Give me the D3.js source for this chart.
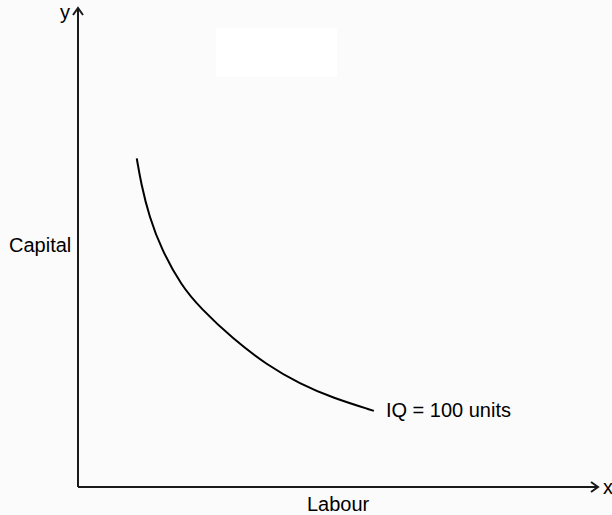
<html>
<script src="https://d3js.org/d3.v7.min.js"></script>
<style>
    body { margin: 0; background: #fbfbfb; }
    text { font-family: Arial, "Liberation Sans", sans-serif; fill: #000; }
</style>
<body>
<svg id="chart"></svg>
<script>
    // isoquant points (labour, capital) in axis units 0..100
    var labour = [11.3, 12.1, 13.7, 16.1, 19.9, 23.5, 29.8, 36.3, 42.7, 49.0, 56.9];
    var capital = [68.6, 63.5, 56.4, 49.5, 42.0, 37.4, 30.9, 25.5, 21.5, 18.6, 15.9];
    var curveLabel = "IQ = 100 units";
    var xTitle = "Labour", yTitle = "Capital";

    var width = 612, height = 515;
    var svg = d3.select("#chart").attr("width", width).attr("height", height);

    svg.append("rect").attr("width", width).attr("height", height).attr("fill", "#fbfbfb");
    // blank white box near top
    svg.append("rect").attr("x", 216).attr("y", 28).attr("width", 121).attr("height", 49).attr("fill", "#fff");

    var x = d3.scaleLinear().domain([0, 100]).range([78, 598]);
    var y = d3.scaleLinear().domain([0, 100]).range([487, 8]);

    var axisColor = "#1a1a1a";
    // axes
    svg.append("line")
        .attr("x1", x(0)).attr("y1", y(0)).attr("x2", x(0)).attr("y2", y(100))
        .attr("stroke", axisColor).attr("stroke-width", 2);
    svg.append("line")
        .attr("x1", x(0)).attr("y1", y(0)).attr("x2", x(100)).attr("y2", y(0))
        .attr("stroke", axisColor).attr("stroke-width", 2);

    // arrow heads
    svg.append("path")
        .attr("d", "M" + (x(0) - 5) + "," + (y(100) + 7) + "L" + x(0) + "," + y(100) + "L" + (x(0) + 5) + "," + (y(100) + 7))
        .attr("fill", "none").attr("stroke", axisColor).attr("stroke-width", 2);
    svg.append("path")
        .attr("d", "M" + (x(100) - 7) + "," + (y(0) - 5) + "L" + x(100) + "," + y(0) + "L" + (x(100) - 7) + "," + (y(0) + 5))
        .attr("fill", "none").attr("stroke", axisColor).attr("stroke-width", 2);

    svg.append("text").attr("x", 60).attr("y", 19).style("font-size", "20px").text("y");
    svg.append("text").attr("x", 603).attr("y", 494).style("font-size", "20px").text("x");

    svg.append("text").attr("x", 9).attr("y", 252).style("font-size", "20px").text(yTitle);
    svg.append("text").attr("x", 307).attr("y", 511).style("font-size", "20px").text(xTitle);

    // isoquant
    var pts = labour.map(function (d, i) { return [d, capital[i]]; });
    svg.append("path")
        .datum(pts)
        .attr("fill", "none")
        .attr("stroke", "#000")
        .attr("stroke-width", 2)
        .attr("d", d3.line()
            .x(function (d) { return x(d[0]) })
            .y(function (d) { return y(d[1]) })
            .curve(d3.curveBasis));

    var last = pts[pts.length - 1];
    svg.append("text")
        .attr("x", x(last[0]) + 12).attr("y", y(last[1]) + 6)
        .style("font-size", "20px").text(curveLabel);
</script>
</body>
</html>
